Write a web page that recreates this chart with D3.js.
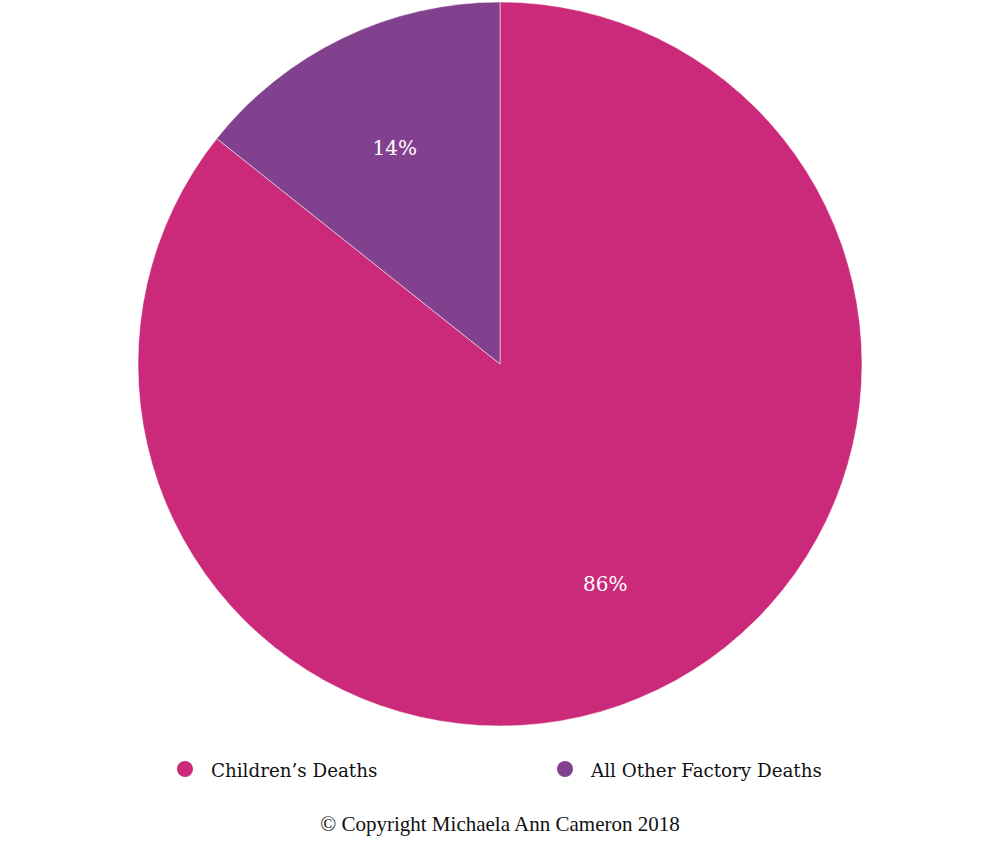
<!DOCTYPE html>
<html>
<head>
<meta charset="utf-8">
<script src="https://cdn.jsdelivr.net/npm/d3@7"></script>
<style>
  body { margin: 0; background: #fff; }
  .pal { font-family: "Palatino Linotype", "Book Antiqua", Palatino, "DejaVu Serif", serif; }
  .times { font-family: "Liberation Serif", "Times New Roman", serif; }
</style>
</head>
<body>
<svg id="chart" width="999" height="843"></svg>
<script>
// chart data (shares, shown rounded)
let categories = ["Children’s Deaths", "All Other Factory Deaths"];
let values = [85.7, 14.3];
let colors = ["#CB2A7B", "#82418F"];
let copyright = "© Copyright Michaela Ann Cameron 2018";

let width = 999, height = 843;
let cx = 500, cy = 364, radius = 362;

let svg = d3.select("#chart");

let total = d3.sum(values);
let pie = d3.pie().sort(null).value((d) => d.value);
let arc = d3.arc().innerRadius(0).outerRadius(radius);
let labelArc = d3.arc().innerRadius(radius * 0.67).outerRadius(radius * 0.67);

let rows = categories.map((c, i) => ({ name: c, value: values[i], color: colors[i] }));

let g = svg.append("g").attr("transform", "translate(" + cx + "," + cy + ")");

let slices = g.selectAll(".slice")
  .data(pie(rows))
  .enter()
  .append("g")
  .attr("class", "slice");

slices.append("path")
  .attr("d", arc)
  .attr("fill", (d) => d.data.color)
  .attr("stroke", "#fff")
  .attr("stroke-width", 0.5);

slices.append("text")
  .attr("class", "pal")
  .attr("transform", (d) => "translate(" + labelArc.centroid(d) + ")")
  .attr("text-anchor", "middle")
  .attr("dy", "0.45em")
  .attr("fill", "#fff")
  .style("font-size", "20px")
  .text((d) => Math.round((d.data.value / total) * 100) + "%");

// legend
let legendX = d3.scalePoint().domain(categories).range([185, 565]);
let legend = svg.selectAll(".legend")
  .data(rows)
  .enter()
  .append("g")
  .attr("class", "legend")
  .attr("transform", (d) => "translate(" + legendX(d.name) + ",769)");

legend.append("circle")
  .attr("r", 8)
  .attr("fill", (d) => d.color);

legend.append("text")
  .attr("class", "pal")
  .attr("x", 26)
  .attr("dy", "0.42em")
  .attr("fill", "#111")
  .style("font-size", "18.3px")
  .text((d) => d.name);

svg.append("text")
  .attr("class", "times")
  .attr("x", 500)
  .attr("y", 824)
  .attr("dy", "0.35em")
  .attr("text-anchor", "middle")
  .attr("fill", "#111")
  .style("font-size", "21px")
  .text(copyright);
</script>
</body>
</html>
